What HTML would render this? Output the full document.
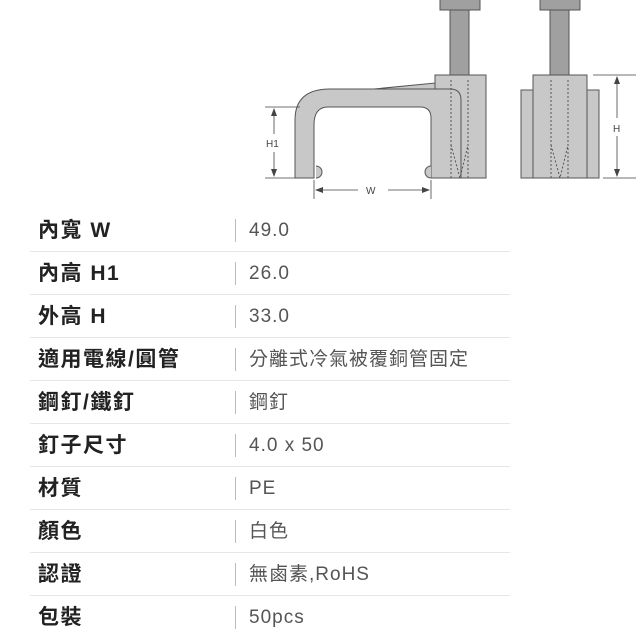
<!DOCTYPE html>
<html><head><meta charset="utf-8"><style>
body{margin:0;width:640px;height:640px;background:#fff;position:relative;overflow:hidden;font-family:"Liberation Sans","Noto Sans CJK TC",sans-serif}
.r{position:absolute;left:30px;width:480px;height:43px}
.r .l{position:absolute;left:8px;top:0;line-height:43px;font-size:21px;letter-spacing:1.5px;font-weight:bold;color:#222;white-space:nowrap}
.r .d{position:absolute;left:205px;top:10px;width:1px;height:23px;background:#bbb}
.r .v{position:absolute;left:219px;top:0;line-height:43px;font-size:19px;letter-spacing:1px;color:#555;white-space:nowrap}
.r .s{position:absolute;left:0;bottom:0;width:480px;height:1px;background:#e6e6e6}
</style></head><body>
<svg width="640" height="210" style="position:absolute;left:0;top:0" font-family="Liberation Sans" >
<g stroke="#555" stroke-width="1">
<rect x="440" y="-2" width="40" height="12" fill="#a0a0a0"/>
<rect x="450" y="10" width="19" height="65" fill="#a0a0a0"/>
<rect x="435" y="75" width="51" height="103" fill="#c8c8c8"/>
<path d="M374 89 L435 83 L435 89 Z" fill="#c8c8c8"/>
<path d="M295 178 L295 120 Q295 89 330 89 L450 89 Q461 89 461 100 L461 178 L431 178 L431 118 Q431 107 420 107 L328 107 Q314 107 314 125 L314 178 Z" fill="#c8c8c8"/>
<path d="M316 166 A6 6 0 0 1 316 178" fill="#c8c8c8"/>
<path d="M431 166 A6 6 0 0 0 431 178" fill="#c8c8c8"/>
<g stroke-dasharray="2,2" fill="none"><path d="M451 80 L451 178 M468 80 L468 178 M451 145 L460 178 L468 145"/></g>
<rect x="540" y="-2" width="40" height="12" fill="#a0a0a0"/>
<rect x="550" y="10" width="19" height="65" fill="#a0a0a0"/>
<rect x="521" y="90" width="78" height="88" fill="#c8c8c8"/>
<rect x="533" y="75" width="54" height="103" fill="#c8c8c8"/>
<g stroke-dasharray="2,2" fill="none"><path d="M551 80 L551 178 M568 80 L568 178 M551 145 L560 178 L568 145"/></g>
<g stroke="#444" stroke-width="0.8" fill="none">
<path d="M593 75 L636 75 M603 178 L636 178 M617 77 L617 118 M617 136 L617 176"/>
<path d="M265 107 L300 107 M265 178 L295 178 M274 109 L274 134 M274 152 L274 176"/>
<path d="M314 180 L314 199 M431 180 L431 199 M316 190 L358 190 M388 190 L429 190"/>
</g>
<g fill="#444" stroke="none">
<path d="M617 76 L614 84 L620 84Z M617 177 L614 169 L620 169Z"/>
<path d="M274 108 L271 116 L277 116Z M274 177 L271 169 L277 169Z"/>
<path d="M315 190 L323 187 L323 193Z M430 190 L422 187 L422 193Z"/>
</g>
</g>
<g fill="#444" font-size="10"><text x="613" y="132">H</text><text x="266" y="147">H1</text><text x="366" y="194">W</text></g>
</svg>
<div class="r" style="top:209px"><span class="l">內寬 W</span><span class="d"></span><span class="v">49.0</span><span class="s"></span></div>
<div class="r" style="top:252px"><span class="l">內高 H1</span><span class="d"></span><span class="v">26.0</span><span class="s"></span></div>
<div class="r" style="top:295px"><span class="l">外高 H</span><span class="d"></span><span class="v">33.0</span><span class="s"></span></div>
<div class="r" style="top:338px"><span class="l">適用電線/圓管</span><span class="d"></span><span class="v">分離式冷氣被覆銅管固定</span><span class="s"></span></div>
<div class="r" style="top:381px"><span class="l">鋼釘/鐵釘</span><span class="d"></span><span class="v">鋼釘</span><span class="s"></span></div>
<div class="r" style="top:424px"><span class="l">釘子尺寸</span><span class="d"></span><span class="v">4.0 x 50</span><span class="s"></span></div>
<div class="r" style="top:467px"><span class="l">材質</span><span class="d"></span><span class="v">PE</span><span class="s"></span></div>
<div class="r" style="top:510px"><span class="l">顏色</span><span class="d"></span><span class="v">白色</span><span class="s"></span></div>
<div class="r" style="top:553px"><span class="l">認證</span><span class="d"></span><span class="v">無鹵素,RoHS</span><span class="s"></span></div>
<div class="r" style="top:596px"><span class="l">包裝</span><span class="d"></span><span class="v">50pcs</span></div>
</body></html>
